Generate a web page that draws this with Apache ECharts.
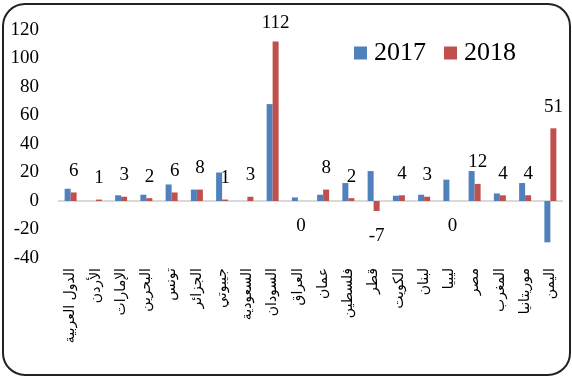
<!DOCTYPE html>
<html>
<head>
<meta charset="utf-8">
<script src="https://cdn.jsdelivr.net/npm/echarts@6/dist/echarts.min.js"></script>
<style>
  html, body { margin: 0; padding: 0; background: #fff; }
  #chart { width: 572px; height: 376px; }
</style>
</head>
<body>
<div id="chart"></div>
<script>
// Countries along the category axis
const countries = [
  'الدول العربية', 'الأردن', 'الإمارات', 'البحرين', 'تونس', 'الجزائر',
  'جيبوتي', 'السعودية', 'السودان', 'العراق', 'عمان', 'فلسطين', 'قطر',
  'الكويت', 'لبنان', 'ليبيا', 'مصر', 'المغرب', 'موريتانيا', 'اليمن'
];

// Values per year
const values2017 = [8.6, 0, 4, 4.4, 11.6, 8, 20, 0, 68, 2.5, 4.4, 12.6, 21, 3.7, 4.4, 15, 21, 5.3, 12.6, -29];
const values2018 = [6, 1, 3, 2, 6, 8, 1, 3, 112, 0, 8, 2, -7, 4, 3, 0, 12, 4, 4, 51];

const seriesNames = ['2017', '2018'];
const yTicks = { min: -40, max: 120, step: 20 };

const serif = '"Liberation Serif", "Times New Roman", serif';
const blue = '#4f81bd';
const red = '#c0504d';

// 2018 bars carry their value label: above for positive, below otherwise
const labelled2018 = values2018.map(v => ({
  value: v,
  label: v > 0
    ? { position: 'top', distance: v > 100 ? 9 : 12 }
    : { position: 'bottom', distance: 16 }
}));

const chart = echarts.init(document.getElementById('chart'), null, { renderer: 'canvas' });

chart.setOption({
  backgroundColor: '#fff',
  animation: false,
  graphic: [{
    type: 'rect',
    shape: { x: 3, y: 4, width: 567, height: 371, r: 22 },
    style: { fill: 'none', stroke: '#222', lineWidth: 2 },
    z: 100,
    silent: true
  }],
  legend: {
    data: seriesNames,
    left: 354,
    top: 40,
    padding: 0,
    itemWidth: 13,
    itemHeight: 13,
    itemGap: 18,
    icon: 'rect',
    textStyle: { fontFamily: serif, fontSize: 26, color: '#000', padding: [0, 0, 0, 2] }
  },
  grid: { left: 58, right: 9, top: 30, bottom: 118, containLabel: false },
  xAxis: {
    type: 'category',
    data: countries,
    axisLine: { show: false, onZero: false },
    axisTick: { show: false },
    axisLabel: {
      interval: 0,
      rotate: 90,
      margin: 10,
      fontFamily: '"DejaVu Sans", sans-serif',
      fontSize: 14,
      color: '#000'
    }
  },
  yAxis: {
    type: 'value',
    min: yTicks.min,
    max: yTicks.max,
    interval: yTicks.step,
    axisLine: { show: false },
    axisTick: { show: false },
    splitLine: { show: false },
    axisLabel: { fontFamily: serif, fontSize: 19, color: '#000', margin: 19 }
  },
  series: [
    {
      name: seriesNames[0],
      type: 'bar',
      data: values2017,
      barWidth: 6,
      barGap: '0%',
      itemStyle: { color: blue },
      markLine: {
        silent: true,
        symbol: ['none', 'none'],
        label: { show: false },
        lineStyle: { color: '#d9d9d9', width: 2, type: 'solid' },
        data: [{ yAxis: 0 }],
        z: 1
      }
    },
    {
      name: seriesNames[1],
      type: 'bar',
      data: labelled2018,
      barWidth: 6,
      barGap: '0%',
      itemStyle: { color: red },
      label: {
        show: true,
        fontFamily: serif,
        fontSize: 19,
        color: '#000'
      }
    }
  ]
});
</script>
</body>
</html>
